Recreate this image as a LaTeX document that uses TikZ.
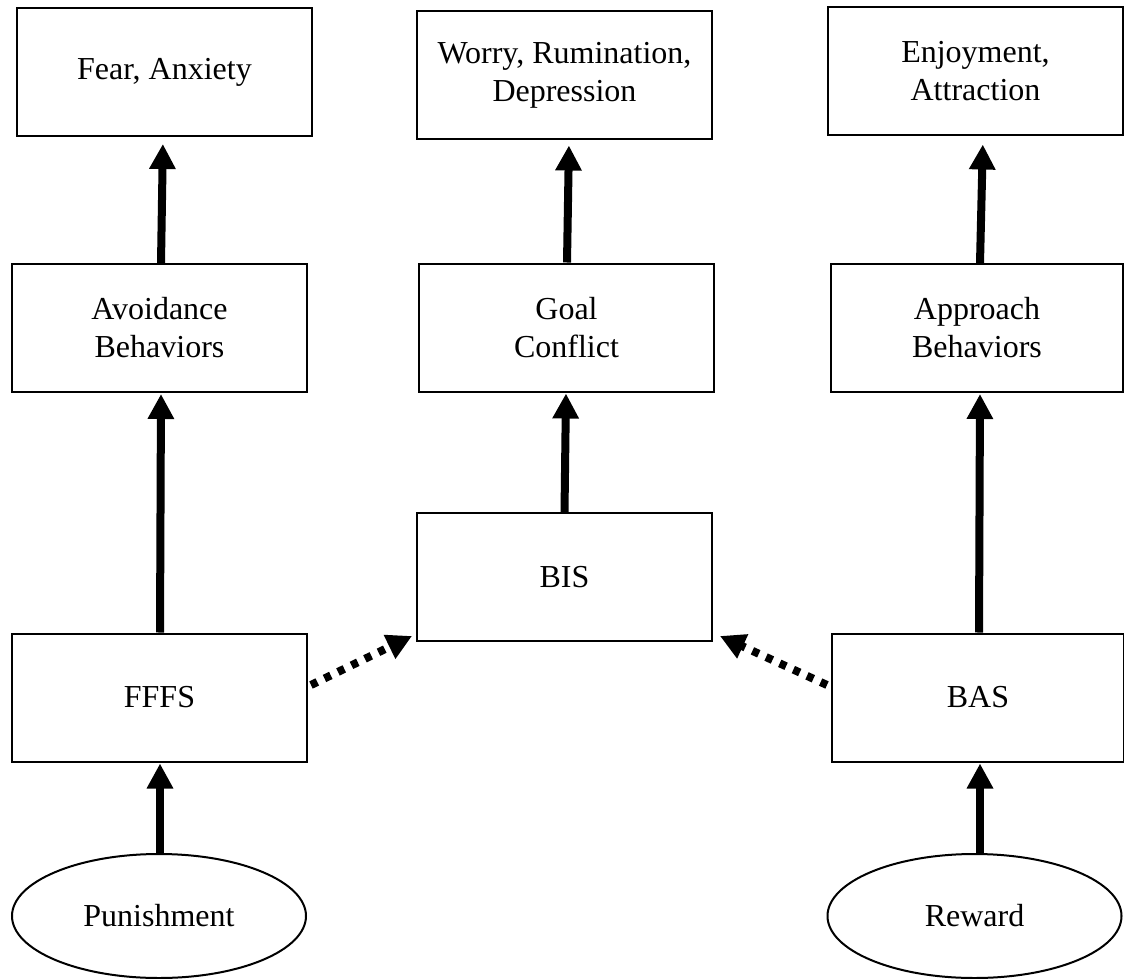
\documentclass[tikz,border=0pt]{standalone}
\usepackage{fontspec}
\setmainfont{Liberation Serif}
\usetikzlibrary{arrows.meta,shapes.geometric,calc}
\begin{document}
\begin{tikzpicture}[x=1pt,y=-1pt,
  box/.style={draw,line width=2pt,minimum width=295pt,minimum height=128pt,inner sep=0pt,align=center,font=\fontsize{32}{38}\selectfont},
  oval/.style={draw,line width=2pt,ellipse,minimum width=294pt,minimum height=124pt,inner sep=0pt,font=\fontsize{32}{38}\selectfont},
  solidarrow/.style={line width=8pt,-{Triangle[length=25pt,width=25pt]}},
  dotarrow/.style={line width=8pt,dash pattern=on 7pt off 8pt,-{Triangle[length=25pt,width=25pt]}}]
\useasboundingbox (0,0) rectangle (1124,979);
\node[box] (fear) at (164.5,72) {Fear, Anxiety};
\node[box] (worry) at (564.5,75.5) {Worry, Rumination,\\Depression};
\node[box] (enjoy) at (975.5,71.5) {Enjoyment,\\Attraction};
\node[box] (avoid) at (159.5,328) {Avoidance\\Behaviors};
\node[box] (goal) at (566.5,327.5) {Goal\\Conflict};
\node[box,minimum width=292pt] (app) at (977,328) {Approach\\Behaviors};
\node[box] (bis) at (564.5,577) {BIS};
\node[box] (fffs) at (159.5,697.5) {FFFS};
\node[box,minimum width=292pt] (bas) at (978,697.5) {BAS};
\node[oval] (pun) at (159,916) {Punishment};
\node[oval] (rew) at (974.5,916) {Reward};
\draw[solidarrow,shorten >=7pt] ([xshift=1.5pt]avoid.north) -- ([xshift=-1.5pt]fear.south);
\draw[solidarrow,shorten >=1pt] ([xshift=0.5pt]fffs.north) -- ([xshift=1.5pt]avoid.south);
\draw[solidarrow,shorten >=1pt] ([xshift=1pt]pun.north) -- ([xshift=0.5pt]fffs.south);
\draw[solidarrow,shorten >=5pt] ([xshift=0.5pt]goal.north) -- ([xshift=4.5pt]worry.south);
\draw[solidarrow,shorten >=1pt] (bis.north) -- ([xshift=-0.5pt]goal.south);
\draw[solidarrow,shorten >=8pt] ([xshift=3pt]app.north) -- ([xshift=7.5pt]enjoy.south);
\draw[solidarrow,shorten >=1pt] ([xshift=1pt]bas.north) -- ([xshift=3pt]app.south);
\draw[solidarrow,shorten >=1pt] ([xshift=5.5pt]rew.north) -- ([xshift=2pt]bas.south);
\draw[dotarrow] ($(fffs.east)+(3,-12.5)$) -- ($(bis.south west)+(-4,-6)$);
\draw[dotarrow] ($(bas.west)+(-4,-12.5)$) -- ($(bis.south east)+(7,-6)$);
\end{tikzpicture}
\end{document}
